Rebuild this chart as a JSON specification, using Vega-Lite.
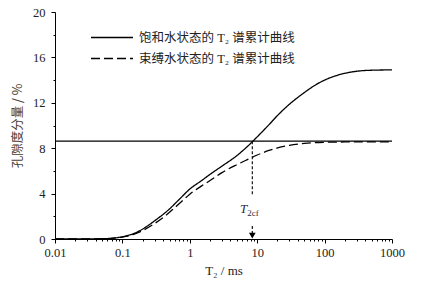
{
  "$schema": "https://vega.github.io/schema/vega-lite/v6.json",
  "width": 337,
  "height": 227,
  "autosize": {"type": "none"},
  "padding": {"left": 55, "top": 12, "right": 37, "bottom": 51},
  "background": "white",
  "config": {
    "view": {"stroke": null},
    "font": "Liberation Serif",
    "axis": {"grid": false, "domainColor": "black", "tickColor": "black", "labelColor": "#222222", "labelFont": "Liberation Serif", "labelFontSize": 12.5, "titleFontWeight": "normal"}
  },
  "datasets": {
    "curves": [
      {"x": 0.01, "y": 0, "series": "饱和水状态的 T₂ 谱累计曲线"},
      {"x": 0.03, "y": 0.003, "series": "饱和水状态的 T₂ 谱累计曲线"},
      {"x": 0.05, "y": 0.02, "series": "饱和水状态的 T₂ 谱累计曲线"},
      {"x": 0.07, "y": 0.07, "series": "饱和水状态的 T₂ 谱累计曲线"},
      {"x": 0.1, "y": 0.2, "series": "饱和水状态的 T₂ 谱累计曲线"},
      {"x": 0.15, "y": 0.5, "series": "饱和水状态的 T₂ 谱累计曲线"},
      {"x": 0.2, "y": 0.88, "series": "饱和水状态的 T₂ 谱累计曲线"},
      {"x": 0.3, "y": 1.6, "series": "饱和水状态的 T₂ 谱累计曲线"},
      {"x": 0.5, "y": 2.65, "series": "饱和水状态的 T₂ 谱累计曲线"},
      {"x": 0.7, "y": 3.5, "series": "饱和水状态的 T₂ 谱累计曲线"},
      {"x": 1, "y": 4.4, "series": "饱和水状态的 T₂ 谱累计曲线"},
      {"x": 1.5, "y": 5.15, "series": "饱和水状态的 T₂ 谱累计曲线"},
      {"x": 2, "y": 5.7, "series": "饱和水状态的 T₂ 谱累计曲线"},
      {"x": 3, "y": 6.42, "series": "饱和水状态的 T₂ 谱累计曲线"},
      {"x": 5, "y": 7.35, "series": "饱和水状态的 T₂ 谱累计曲线"},
      {"x": 7, "y": 8.1, "series": "饱和水状态的 T₂ 谱累计曲线"},
      {"x": 10, "y": 9.0, "series": "饱和水状态的 T₂ 谱累计曲线"},
      {"x": 15, "y": 10.08, "series": "饱和水状态的 T₂ 谱累计曲线"},
      {"x": 20, "y": 10.88, "series": "饱和水状态的 T₂ 谱累计曲线"},
      {"x": 30, "y": 11.87, "series": "饱和水状态的 T₂ 谱累计曲线"},
      {"x": 50, "y": 12.9, "series": "饱和水状态的 T₂ 谱累计曲线"},
      {"x": 70, "y": 13.5, "series": "饱和水状态的 T₂ 谱累计曲线"},
      {"x": 100, "y": 14.0, "series": "饱和水状态的 T₂ 谱累计曲线"},
      {"x": 150, "y": 14.4, "series": "饱和水状态的 T₂ 谱累计曲线"},
      {"x": 200, "y": 14.6, "series": "饱和水状态的 T₂ 谱累计曲线"},
      {"x": 300, "y": 14.78, "series": "饱和水状态的 T₂ 谱累计曲线"},
      {"x": 500, "y": 14.87, "series": "饱和水状态的 T₂ 谱累计曲线"},
      {"x": 1000, "y": 14.9, "series": "饱和水状态的 T₂ 谱累计曲线"},
      {"x": 0.01, "y": 0, "series": "束缚水状态的 T₂ 谱累计曲线"},
      {"x": 0.03, "y": 0.003, "series": "束缚水状态的 T₂ 谱累计曲线"},
      {"x": 0.05, "y": 0.02, "series": "束缚水状态的 T₂ 谱累计曲线"},
      {"x": 0.07, "y": 0.06, "series": "束缚水状态的 T₂ 谱累计曲线"},
      {"x": 0.1, "y": 0.17, "series": "束缚水状态的 T₂ 谱累计曲线"},
      {"x": 0.15, "y": 0.42, "series": "束缚水状态的 T₂ 谱累计曲线"},
      {"x": 0.2, "y": 0.74, "series": "束缚水状态的 T₂ 谱累计曲线"},
      {"x": 0.3, "y": 1.36, "series": "束缚水状态的 T₂ 谱累计曲线"},
      {"x": 0.5, "y": 2.35, "series": "束缚水状态的 T₂ 谱累计曲线"},
      {"x": 0.7, "y": 3.12, "series": "束缚水状态的 T₂ 谱累计曲线"},
      {"x": 1, "y": 3.95, "series": "束缚水状态的 T₂ 谱累计曲线"},
      {"x": 1.5, "y": 4.68, "series": "束缚水状态的 T₂ 谱累计曲线"},
      {"x": 2, "y": 5.15, "series": "束缚水状态的 T₂ 谱累计曲线"},
      {"x": 3, "y": 5.85, "series": "束缚水状态的 T₂ 谱累计曲线"},
      {"x": 5, "y": 6.55, "series": "束缚水状态的 T₂ 谱累计曲线"},
      {"x": 7, "y": 6.97, "series": "束缚水状态的 T₂ 谱累计曲线"},
      {"x": 10, "y": 7.4, "series": "束缚水状态的 T₂ 谱累计曲线"},
      {"x": 15, "y": 7.8, "series": "束缚水状态的 T₂ 谱累计曲线"},
      {"x": 20, "y": 8.02, "series": "束缚水状态的 T₂ 谱累计曲线"},
      {"x": 30, "y": 8.25, "series": "束缚水状态的 T₂ 谱累计曲线"},
      {"x": 50, "y": 8.42, "series": "束缚水状态的 T₂ 谱累计曲线"},
      {"x": 100, "y": 8.52, "series": "束缚水状态的 T₂ 谱累计曲线"},
      {"x": 200, "y": 8.55, "series": "束缚水状态的 T₂ 谱累计曲线"},
      {"x": 1000, "y": 8.56, "series": "束缚水状态的 T₂ 谱累计曲线"}
    ],
    "hline": [{"x": 0.01, "x2": 1000, "y": 8.62}],
    "vline": [{"x": 8.46, "y": 8.62, "y2": 3.9}],
    "arrow": [{"x": 8.46, "y": 1.15, "y2": 0.5}],
    "head": [{"x": 8.46, "y": 0.3}],
    "label": [{"x": 8.46, "y": 2.3, "main": "T", "sub": "2cf"}]
  },
  "encoding": {
    "x": {
      "field": "x",
      "type": "quantitative",
      "scale": {"type": "log", "domain": [0.01, 1000], "nice": false},
      "axis": {
        "title": "T₂ / ms",
        "titleFont": "Liberation Serif",
        "titleFontSize": 13,
        "titleColor": "#222222",
        "titlePadding": 6,
        "labelFont": "Liberation Serif",
        "values": [0.01,0.02,0.03,0.04,0.05,0.06,0.07,0.08,0.09,0.1,0.2,0.3,0.4,0.5,0.6,0.7,0.8,0.9,1,2,3,4,5,6,7,8,9,10,20,30,40,50,60,70,80,90,100,200,300,400,500,600,700,800,900,1000],
        "format": "~g",
        "labelExpr": "indexof([0.01,0.1,1,10,100,1000], datum.value) >= 0 ? datum.label : ''",
        "labelOverlap": false,
        "labelBound": false,
        "labelFlush": false,
        "labelPadding": 3,
        "tickSize": {"condition": {"test": "indexof([0.01,0.1,1,10,100,1000], datum.value) >= 0", "value": 4}, "value": 2}
      }
    },
    "y": {
      "field": "y",
      "type": "quantitative",
      "scale": {"domain": [0, 20], "nice": false},
      "axis": {
        "title": "孔隙度分量 / %",
        "titleFont": "Noto Sans CJK SC",
        "titleFontSize": 12.5,
        "titleColor": "#4a3c30",
        "titlePadding": 8,
        "labelFont": "Liberation Serif",
        "values": [0,2,4,6,8,10,12,14,16,18,20],
        "labelExpr": "datum.value % 4 == 0 ? datum.label : ''",
        "labelOverlap": false,
        "labelPadding": 6,
        "tickSize": {"condition": {"test": "datum.value % 4 == 0", "value": 4}, "value": 2}
      }
    }
  },
  "layer": [
    {
      "data": {"name": "curves"},
      "mark": {"type": "line", "color": "black", "strokeWidth": 1.3, "interpolate": "monotone"},
      "encoding": {
        "strokeDash": {
          "field": "series",
          "type": "nominal",
          "scale": {"domain": ["饱和水状态的 T₂ 谱累计曲线", "束缚水状态的 T₂ 谱累计曲线"], "range": [[1, 0], [9, 4]]},
          "legend": {
            "title": null,
            "orient": "none",
            "legendX": 45.5,
            "legendY": 14,
            "padding": 0,
            "symbolType": "M-2,0H2",
            "symbolSize": 441,
            "symbolStrokeColor": "black",
            "symbolFillColor": "transparent",
            "symbolStrokeWidth": 1.3,
            "labelFont": "Liberation Serif, Noto Sans CJK SC",
            "labelFontSize": 12.5,
            "labelColor": "#222222",
            "labelLimit": 0,
            "labelOffset": 15.5,
            "rowPadding": 3
          }
        }
      }
    },
    {
      "data": {"name": "hline"},
      "mark": {"type": "rule", "color": "black", "strokeWidth": 1.1},
      "encoding": {"x2": {"field": "x2"}}
    },
    {
      "data": {"name": "vline"},
      "mark": {"type": "rule", "color": "black", "strokeWidth": 1.1, "strokeDash": [3, 2]},
      "encoding": {"y2": {"field": "y2"}}
    },
    {
      "data": {"name": "arrow"},
      "mark": {"type": "rule", "color": "black", "strokeWidth": 1.1, "strokeDash": [3, 2]},
      "encoding": {"y2": {"field": "y2"}}
    },
    {
      "data": {"name": "head"},
      "mark": {"type": "point", "shape": "triangle-down", "filled": true, "color": "black", "size": 45, "opacity": 1}
    },
    {
      "data": {"name": "label"},
      "mark": {"type": "text", "font": "Liberation Serif", "fontStyle": "italic", "fontSize": 13, "align": "right", "baseline": "alphabetic", "dx": -5, "color": "#1f2a44"},
      "encoding": {"text": {"field": "main"}}
    },
    {
      "data": {"name": "label"},
      "mark": {"type": "text", "font": "Liberation Serif", "fontSize": 9, "align": "left", "baseline": "alphabetic", "dx": -5, "dy": 3, "color": "#1f2a44"},
      "encoding": {"text": {"field": "sub"}}
    }
  ]
}
